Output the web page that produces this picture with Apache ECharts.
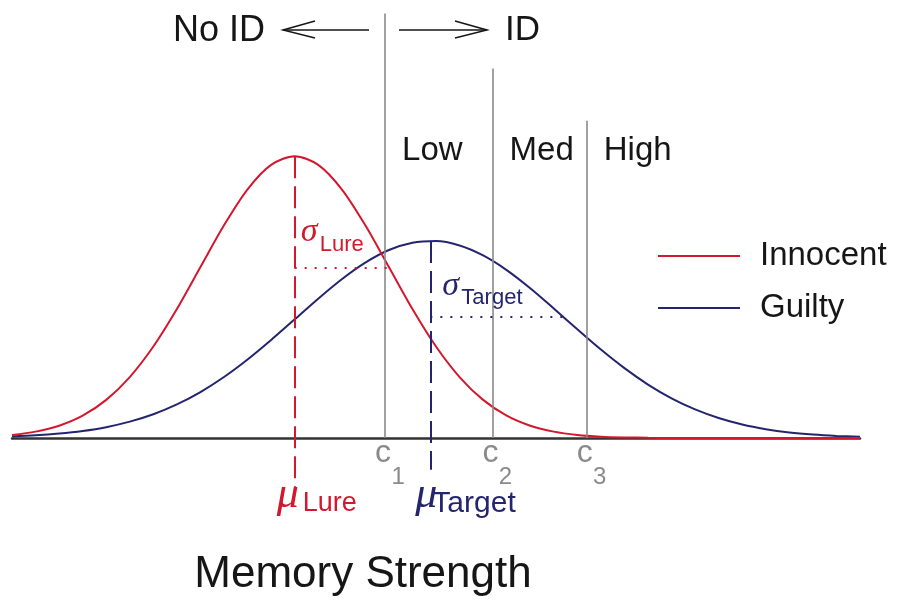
<!DOCTYPE html>
<html lang="en">
<head>
<meta charset="utf-8">
<title>Memory Strength</title>
<script src="https://cdn.jsdelivr.net/npm/echarts@6/dist/echarts.min.js"></script>
<style type="text/css">
    html, body {
        margin: 0px;
        padding: 0px;
        background: #ffffff;
    }
    #main {
        width: 898px;
        height: 602px;
    }
</style>
</head>
<body>
<div id="main"></div>
<script>
    // memory strength samples (x) and the two curves
    var strength = [-3, -2.75, -2.5, -2.25, -2, -1.75, -1.5, -1.25, -1, -0.75, -0.5, -0.25, 0,
        0.25, 0.5, 0.75, 1, 1.25, 1.5, 1.75, 2, 2.25, 2.5, 2.75, 3,
        3.25, 3.5, 3.75, 4, 4.25, 4.5, 4.75, 5, 5.25, 5.5, 5.75, 6];
    var innocent = [0.0044, 0.0091, 0.0175, 0.0317, 0.0540, 0.0863, 0.1295, 0.1826, 0.2420, 0.3011, 0.3521, 0.3867, 0.3989,
        0.3867, 0.3521, 0.3011, 0.2420, 0.1826, 0.1295, 0.0863, 0.0540, 0.0317, 0.0175, 0.0091, 0.0044,
        0.0020, 0.0009, 0.0004, 0.0001, 0, 0, 0, 0, 0, 0, 0, 0];
    var guilty = [0.0023, 0.0038, 0.0063, 0.0100, 0.0154, 0.0232, 0.0337, 0.0476, 0.0651, 0.0864, 0.1112, 0.1388, 0.1680,
        0.1973, 0.2248, 0.2483, 0.2661, 0.2765, 0.2788, 0.2725, 0.2584, 0.2377, 0.2120, 0.1834, 0.1539,
        0.1252, 0.0989, 0.0757, 0.0562, 0.0405, 0.0283, 0.0191, 0.0126, 0.0080, 0.0050, 0.0030, 0.0017];

    // means, peaks and the one-sigma levels
    var lure = {mean: 0, peak: 0.399, sdLevel: 0.241, sdEnd: 0.99, dashEnd: -0.075};
    var target = {mean: 1.44, peak: 0.279, sdLevel: 0.171, sdEnd: 2.85, dashEnd: -0.045};

    // decision criteria and confidence bins
    var criteria = [0.96, 2.1, 3.1];
    var criteriaTop = [0.601, 0.523, 0.449];
    var criteriaSubs = ['1', '2', '3'];
    var confidence = ['Low', 'Med', 'High'];

    var RED = '#d3182e';
    var NAVY = '#25256f';
    var GRAY = '#8a8a8a';
    var INK = '#161616';
    var SANS = '"Liberation Sans", Arial, sans-serif';
    var SERIF = '"Liberation Serif", "Times New Roman", serif';

    function pairs(ys) {
        return strength.map(function (x, i) { return [x, ys[i]]; });
    }

    function seg(x1, y1, x2, y2, color, type, width) {
        return [
            {coord: [x1, y1], lineStyle: {color: color, type: type, width: width}},
            {coord: [x2, y2]}
        ];
    }

    var guides = [];
    // criteria
    criteria.forEach(function (c, i) {
        guides.push(seg(c, 0, c, criteriaTop[i], GRAY, 'solid', 1.6));
    });
    // means
    guides.push(seg(lure.mean, lure.peak, lure.mean, lure.dashEnd, RED, [22, 8], 2));
    guides.push(seg(target.mean, target.peak, target.mean, target.dashEnd, NAVY, [22, 8], 2));
    // sigmas
    guides.push(seg(lure.mean, lure.sdLevel, lure.sdEnd, lure.sdLevel, RED, [2, 8], 2));
    guides.push(seg(target.mean, target.sdLevel, target.sdEnd, target.sdLevel, NAVY, [2, 8], 2));

    var myChart = echarts.init(document.getElementById('main'));

    var option = {
        animation: false,
        backgroundColor: '#ffffff',
        grid: {left: 12, right: 38, top: 0, bottom: 93.3},
        xAxis: {
            type: 'value', min: -3, max: 6,
            axisLine: {show: true, onZero: true, lineStyle: {color: '#333333', width: 2.5}},
            axisTick: {show: false},
            axisLabel: {show: false},
            splitLine: {show: false}
        },
        yAxis: {
            type: 'value', min: -0.1, max: 0.62,
            axisLine: {show: false},
            axisTick: {show: false},
            axisLabel: {show: false},
            splitLine: {show: false}
        },
        legend: {
            data: ['Innocent', 'Guilty'],
            orient: 'vertical',
            left: 658,
            top: 236,
            padding: 0,
            itemWidth: 82,
            itemHeight: 14,
            itemGap: 12,
            icon: 'path://M0,6L82,6L82,8L0,8Z',
            textStyle: {
                fontFamily: SANS,
                fontSize: 33,
                color: INK,
                lineHeight: 40,
                padding: [0, 0, 0, 15]
            }
        },
        series: [
            {
                name: 'guides',
                type: 'line',
                data: [],
                z: 1,
                markLine: {
                    silent: true,
                    symbol: ['none', 'none'],
                    label: {show: false},
                    animation: false,
                    data: guides
                }
            },
            {
                name: 'Guilty',
                type: 'line',
                data: pairs(guilty),
                smooth: 0.3,
                showSymbol: false,
                symbol: 'none',
                color: NAVY,
                lineStyle: {color: NAVY, width: 2},
                z: 3
            },
            {
                name: 'Innocent',
                type: 'line',
                data: pairs(innocent),
                smooth: 0.3,
                showSymbol: false,
                symbol: 'none',
                color: RED,
                lineStyle: {color: RED, width: 2},
                z: 4
            }
        ]
    };
    myChart.setOption(option);

    function px(x, y) {
        return myChart.convertToPixel({gridIndex: 0}, [x, y]);
    }

    function txt(text, x, y, font, color, align) {
        return {
            type: 'text', x: x, y: y, z: 10,
            style: {text: text, font: font, fill: color, align: align || 'left', verticalAlign: 'middle'}
        };
    }

    var g = [];
    var base = px(0, 0)[1];

    // criterion labels c1, c2, c3 and confidence bins
    criteria.forEach(function (c, i) {
        var p = px(c, 0);
        g.push(txt('c', p[0] - 2, base + 15, '32px ' + SANS, GRAY, 'center'));
        g.push(txt(criteriaSubs[i], p[0] + 13, base + 39, '24px ' + SANS, GRAY, 'center'));
        g.push(txt(confidence[i], p[0] + 17, 151, '33px ' + SANS, INK, 'left'));
    });

    // mu labels
    var pl = px(lure.mean, 0), pt = px(target.mean, 0);
    g.push(txt('\u03bc', pl[0] - 18, 495, 'italic 44px ' + SERIF, RED));
    g.push(txt('Lure', pl[0] + 8, 504, '27px ' + SANS, RED));
    g.push(txt('\u03bc', pt[0] - 15, 495, 'italic 44px ' + SERIF, NAVY));
    g.push(txt('Target', pt[0] + 2, 504, '30px ' + SANS, NAVY));

    // sigma labels
    var sl = px(lure.mean, lure.sdLevel), st = px(target.mean, target.sdLevel);
    g.push(txt('\u03c3', sl[0] + 6, sl[1] - 36, 'italic 34px ' + SERIF, RED));
    g.push(txt('Lure', sl[0] + 25, sl[1] - 23, '22px ' + SANS, RED));
    g.push(txt('\u03c3', st[0] + 12, st[1] - 31, 'italic 34px ' + SERIF, NAVY));
    g.push(txt('Target', st[0] + 31, st[1] - 19, '22px ' + SANS, NAVY));

    // decision direction
    g.push(txt('No ID', 173, 31, '36px ' + SANS, INK));
    g.push(txt('ID', 505, 30, '35px ' + SANS, INK));
    var arrowStyle = {stroke: INK, lineWidth: 1.5, fill: null};
    g.push({type: 'polyline', shape: {points: [[283, 30], [369, 30]]}, style: arrowStyle});
    g.push({type: 'polyline', shape: {points: [[315, 21], [283, 30], [315, 38]]}, style: arrowStyle});
    g.push({type: 'polyline', shape: {points: [[399, 30], [487, 30]]}, style: arrowStyle});
    g.push({type: 'polyline', shape: {points: [[455, 21], [487, 30], [455, 38]]}, style: arrowStyle});

    // axis title
    g.push(txt('Memory Strength', 363, 575, '44px ' + SANS, INK, 'center'));

    myChart.setOption({graphic: g});
</script>
</body>
</html>
